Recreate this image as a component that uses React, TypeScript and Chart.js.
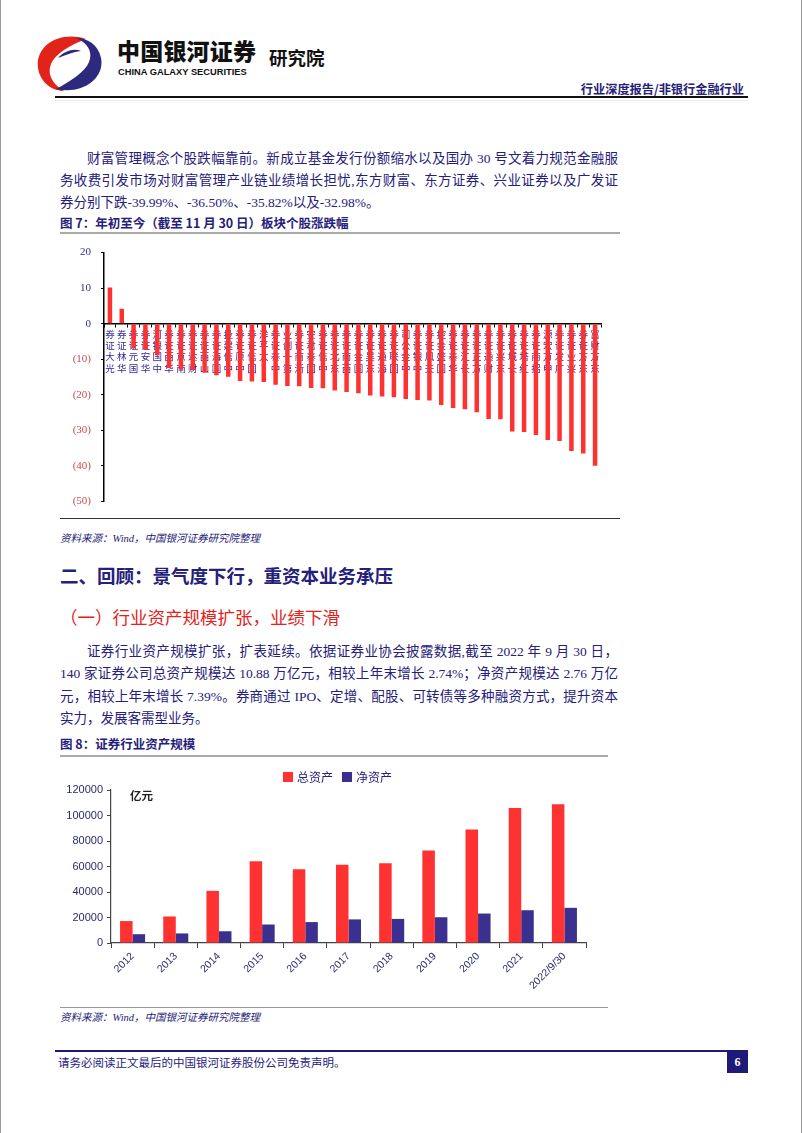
import React, { useEffect, useRef } from 'react';
import Chart from 'chart.js/auto';

// ---------- Figure 7 data ----------
const stockNames = [
  '光大证券', '华林证券', '国元证券', '华安证券', '中国银河', '华西证券', '南京证券', '财达证券',
  '山西证券', '国海证券', '中信建投', '中原证券', '国信证券', '太平洋', '中泰证券', '第一创业',
  '浙商证券', '国泰君安', '中信证券', '东北证券', '西南证券', '国金证券', '东吴证券', '海通证券',
  '国联证券', '中金公司', '中银证券', '天风证券', '国盛金控', '华泰证券', '长江证券', '方正证券',
  '财通证券', '东兴证券', '长城证券', '红塔证券', '招商证券', '申万宏源', '广发证券', '兴业证券',
  '东方证券', '东方财富',
];
const stockChanges = [
  10.2, 4.2, -6.9, -7.3, -8.9, -12.5, -12.8, -13.0,
  -13.8, -14.5, -14.9, -16.1, -16.3, -16.4, -17.2, -17.5,
  -17.6, -18.1, -18.2, -18.8, -19.2, -19.6, -20.2, -20.5,
  -20.7, -21.2, -21.5, -21.6, -22.9, -23.7, -24.1, -24.9,
  -26.8, -26.9, -30.3, -30.5, -31.3, -32.7, -32.98, -35.82,
  -36.5, -39.99,
];
const changeAxisMin = -50;
const changeAxisMax = 20;
const changeAxisStep = 10;

// ---------- Figure 8 data ----------
const years = ['2012', '2013', '2014', '2015', '2016', '2017', '2018', '2019', '2020', '2021', '2022/9/30'];
const totalAssets = [17200, 20800, 40900, 64200, 57900, 61400, 62600, 72600, 89000, 105900, 108800];
const netAssets = [6900, 7500, 9200, 14500, 16400, 18500, 18900, 20200, 23100, 25700, 27600];
const seriesNames = ['总资产', '净资产'];
const assetAxisMax = 120000;
const assetAxisStep = 20000;
const assetUnit = '亿元';

const RED = '#FF3232';
const INDIGO = '#3B2F8F';
const NAVY = '#25207A';
const TEXT_FONT = "'Liberation Serif', 'Noto Sans CJK SC', serif";
const CJK = "'Noto Sans CJK SC', sans-serif";

// labels stacked one character per line, first character at the bottom (as in the source)
const stackedNames = stockNames.map((n) => n.split('').reverse());

function StockChart() {
  const ref = useRef<HTMLCanvasElement>(null);
  useEffect(() => {
    const chart = new Chart(ref.current!, {
      type: 'bar',
      data: {
        labels: stackedNames as any,
        datasets: [{
          data: stockChanges,
          backgroundColor: RED,
          categoryPercentage: 0.38,
          barPercentage: 1,
        }],
      },
      options: {
        animation: false,
        responsive: false,
        devicePixelRatio: 1,
        layout: { padding: { top: 15, right: 19, bottom: 7, left: 0 } },
        plugins: { legend: { display: false }, tooltip: { enabled: false } },
        scales: {
          x: {
            position: { y: 0 } as any,
            z: 1,
            grid: { display: true, drawOnChartArea: false, tickLength: 3, color: '#000', lineWidth: 1 },
            border: { display: true, color: '#000', width: 1.5 },
            ticks: {
              autoSkip: false,
              minRotation: 0,
              maxRotation: 0,
              padding: 2,
              color: '#33289A',
              font: { family: CJK, size: 9.5, lineHeight: 1.18 },
            },
          },
          y: {
            min: changeAxisMin,
            max: changeAxisMax,
            afterFit: (s: any) => { s.width = 44; },
            grid: { display: true, drawOnChartArea: false, tickLength: 3, color: '#000' },
            border: { display: true, color: '#000', width: 1.5 },
            ticks: {
              stepSize: changeAxisStep,
              padding: 10,
              font: { family: "'Liberation Serif', serif", size: 11 },
              color: (ctx: any) => (ctx.tick && ctx.tick.value < 0 ? '#C0504D' : '#2E3192'),
              callback: (v: any) => (Number(v) < 0 ? `(${-Number(v)})` : `${v}`),
            },
          },
        },
      },
    });
    return () => chart.destroy();
  }, []);
  return (
    <canvas
      ref={ref}
      width={560}
      height={282}
      style={{ position: 'absolute', left: 60, top: 236, width: 560, height: 282 }}
    />
  );
}

const legendPlugin = {
  id: 'customLegend',
  afterDraw(chart: any) {
    const ctx = chart.ctx;
    ctx.save();
    const positions = [223, 282];
    chart.data.datasets.forEach((ds: any, i: number) => {
      const x = positions[i];
      ctx.fillStyle = ds.backgroundColor;
      ctx.fillRect(x, 14, 10, 10);
      ctx.fillStyle = NAVY;
      ctx.font = `12px ${CJK}`;
      ctx.textBaseline = 'middle';
      ctx.textAlign = 'left';
      ctx.fillText(ds.label, x + 14, 19);
    });
    ctx.font = `bold 11.5px ${CJK}`;
    ctx.fillStyle = '#222';
    ctx.fillText(assetUnit, 70, 38);
    ctx.restore();
  },
};

function AssetChart() {
  const ref = useRef<HTMLCanvasElement>(null);
  useEffect(() => {
    const chart = new Chart(ref.current!, {
      type: 'bar',
      data: {
        labels: years,
        datasets: [
          { label: seriesNames[0], data: totalAssets, backgroundColor: RED, categoryPercentage: 0.58, barPercentage: 1 },
          { label: seriesNames[1], data: netAssets, backgroundColor: INDIGO, categoryPercentage: 0.58, barPercentage: 1 },
        ],
      },
      options: {
        animation: false,
        responsive: false,
        devicePixelRatio: 1,
        layout: { padding: { top: 32, right: 22, bottom: 0, left: 0 } },
        plugins: { legend: { display: false }, tooltip: { enabled: false } },
        scales: {
          x: {
            afterFit: (s: any) => { s.height = 64; },
            grid: { display: true, drawOnChartArea: false, tickLength: 5, color: '#444' },
            border: { display: true, color: '#444', width: 1.2 },
            ticks: {
              minRotation: 45,
              maxRotation: 45,
              autoSkip: false,
              padding: 2,
              color: '#2B2B6E',
              font: { family: "'Liberation Sans', sans-serif", size: 10.5 },
            },
          },
          y: {
            min: 0,
            max: assetAxisMax,
            afterFit: (s: any) => { s.width = 51; },
            grid: { display: true, drawOnChartArea: false, tickLength: 4, color: '#444' },
            border: { display: true, color: '#444', width: 1.2 },
            ticks: {
              stepSize: assetAxisStep,
              padding: 4,
              color: '#2B2B6E',
              font: { family: "'Liberation Sans', sans-serif", size: 11 },
              callback: (v: any) => String(v),
            },
          },
        },
      },
      plugins: [legendPlugin],
    });
    return () => chart.destroy();
  }, []);
  return (
    <canvas
      ref={ref}
      width={548}
      height={249}
      style={{ position: 'absolute', left: 60, top: 758, width: 548, height: 249 }}
    />
  );
}

function Line(props: { x: number; y: number; w: number; text: string; justify?: boolean; size?: number; style?: any }) {
  const { x, y, w, text, justify = true, size = 13.5, style } = props;
  return (
    <div
      style={{
        position: 'absolute',
        left: x,
        top: y,
        width: w,
        fontSize: size,
        lineHeight: `${size + 4}px`,
        fontFamily: TEXT_FONT,
        color: NAVY,
        textAlign: justify ? 'justify' : 'left',
        textAlignLast: justify ? 'justify' : 'left',
        ...style,
      } as any}
    >
      {text}
    </div>
  );
}

function Logo() {
  return (
    <svg width={72} height={60} viewBox="0 0 72 60" style={{ position: 'absolute', left: 34, top: 34 }}>
      <path d="M52 5 C24 -4, 1 13, 4 34 C6 48, 18 57, 30 57 C18 50, 13 40, 17 30 C21 20, 36 11, 52 5 Z" fill="#E2231A" />
      <path d="M22 55 C50 61, 71 43, 67 24 C64 10, 53 4, 42 4 C54 9, 59 18, 55 28 C51 38, 37 47, 22 55 Z" fill="#2D2A7E" />
      <path d="M24 24 C30 17, 40 14, 47 17 C39 18, 32 21, 24 24 Z" fill="#2D2A7E" />
    </svg>
  );
}

export default function App() {
  const rule = (top: number, left: number, width: number, color: string, h: number) => (
    <div style={{ position: 'absolute', top, left, width, height: h, background: color }} />
  );
  return (
    <div
      style={{
        position: 'absolute',
        left: 0,
        top: 0,
        width: 802,
        height: 1133,
        background: '#fff',
        overflow: 'hidden',
        fontFamily: TEXT_FONT,
      }}
    >
      {/* page side borders */}
      <div style={{ position: 'absolute', left: 0, top: 0, width: 1, height: 1133, background: '#999' }} />
      <div style={{ position: 'absolute', left: 801, top: 0, width: 1, height: 1133, background: '#999' }} />

      {/* header */}
      <Logo />
      <div style={{ position: 'absolute', left: 117, top: 35, fontFamily: CJK, fontWeight: 900, fontSize: 23, lineHeight: '30px', color: '#111', letterSpacing: 0.2 }}>
        中国银河证券
      </div>
      <div style={{ position: 'absolute', left: 118, top: 66, fontFamily: "'Liberation Sans', sans-serif", fontWeight: 700, fontSize: 9.6, lineHeight: '12px', color: '#111', transform: 'scaleX(0.97)', transformOrigin: 'left' }}>
        CHINA GALAXY SECURITIES
      </div>
      <div style={{ position: 'absolute', left: 269, top: 45, fontFamily: CJK, fontWeight: 700, fontSize: 18.5, lineHeight: '24px', color: '#111' }}>
        研究院
      </div>
      <div style={{ position: 'absolute', right: 802 - 744, top: 80, fontFamily: CJK, fontWeight: 700, fontSize: 12.2, lineHeight: '18px', color: NAVY }}>
        行业深度报告/非银行金融行业
      </div>
      {rule(96, 55, 693, '#111', 2)}
      {rule(100, 55, 693, '#eee', 1)}

      {/* paragraph 1 */}
      <Line x={87} y={150} w={531} text="财富管理概念个股跌幅靠前。新成立基金发行份额缩水以及国办 30 号文着力规范金融服" />
      <Line x={60} y={172} w={558} text="务收费引发市场对财富管理产业链业绩增长担忧,东方财富、东方证券、兴业证券以及广发证" />
      <Line x={60} y={194} w={558} justify={false} text="券分别下跌-39.99%、-36.50%、-35.82%以及-32.98%。" />

      {/* figure 7 */}
      <div style={{ position: 'absolute', left: 60, top: 214, fontFamily: CJK, fontWeight: 700, fontSize: 12.5, lineHeight: '18px', color: NAVY }}>
        图 7：年初至今（截至 11 月 30 日）板块个股涨跌幅
      </div>
      {rule(232, 60, 560, '#aaa', 2)}
      <StockChart />
      {rule(518, 60, 560, '#333', 1)}
      <div style={{ position: 'absolute', left: 60, top: 531, fontFamily: TEXT_FONT, fontStyle: 'italic', fontSize: 10.5, lineHeight: '16px', color: NAVY }}>
        资料来源：Wind，中国银河证券研究院整理
      </div>

      {/* headings */}
      <div style={{ position: 'absolute', left: 60, top: 562, fontFamily: CJK, fontWeight: 700, fontSize: 18.5, lineHeight: '26px', color: NAVY }}>
        二、回顾：景气度下行，重资本业务承压
      </div>
      <div style={{ position: 'absolute', left: 60, top: 605, fontFamily: CJK, fontWeight: 400, fontSize: 17.5, lineHeight: '24px', color: '#E2231A' }}>
        （一）行业资产规模扩张，业绩下滑
      </div>

      {/* paragraph 2 */}
      <Line x={87} y={643} w={531} text="证券行业资产规模扩张，扩表延续。依据证券业协会披露数据,截至 2022 年 9 月 30 日，" />
      <Line x={60} y={665} w={558} text="140 家证券公司总资产规模达 10.88 万亿元，相较上年末增长 2.74%；净资产规模达 2.76 万亿" />
      <Line x={60} y={688} w={558} text="元，相较上年末增长 7.39%。券商通过 IPO、定增、配股、可转债等多种融资方式，提升资本" />
      <Line x={60} y={710} w={558} justify={false} text="实力，发展客需型业务。" />

      {/* figure 8 */}
      <div style={{ position: 'absolute', left: 60, top: 735, fontFamily: CJK, fontWeight: 700, fontSize: 12.5, lineHeight: '18px', color: NAVY }}>
        图 8：证券行业资产规模
      </div>
      {rule(755, 60, 548, '#aaa', 2)}
      <AssetChart />
      {rule(1007, 60, 548, '#999', 1)}
      <div style={{ position: 'absolute', left: 60, top: 1010, fontFamily: TEXT_FONT, fontStyle: 'italic', fontSize: 10.5, lineHeight: '16px', color: NAVY }}>
        资料来源：Wind，中国银河证券研究院整理
      </div>

      {/* footer */}
      {rule(1050, 55, 693, '#1E1A78', 2)}
      <div style={{ position: 'absolute', left: 58, top: 1054, fontFamily: CJK, fontSize: 11.5, lineHeight: '16px', color: NAVY }}>
        请务必阅读正文最后的中国银河证券股份公司免责声明。
      </div>
      <div
        style={{
          position: 'absolute',
          left: 727,
          top: 1051,
          width: 21,
          height: 22,
          background: '#1E1A78',
          color: '#fff',
          fontFamily: "'Liberation Serif', serif",
          fontWeight: 700,
          fontSize: 12,
          lineHeight: '22px',
          textAlign: 'center',
        }}
      >
        6
      </div>
    </div>
  );
}
